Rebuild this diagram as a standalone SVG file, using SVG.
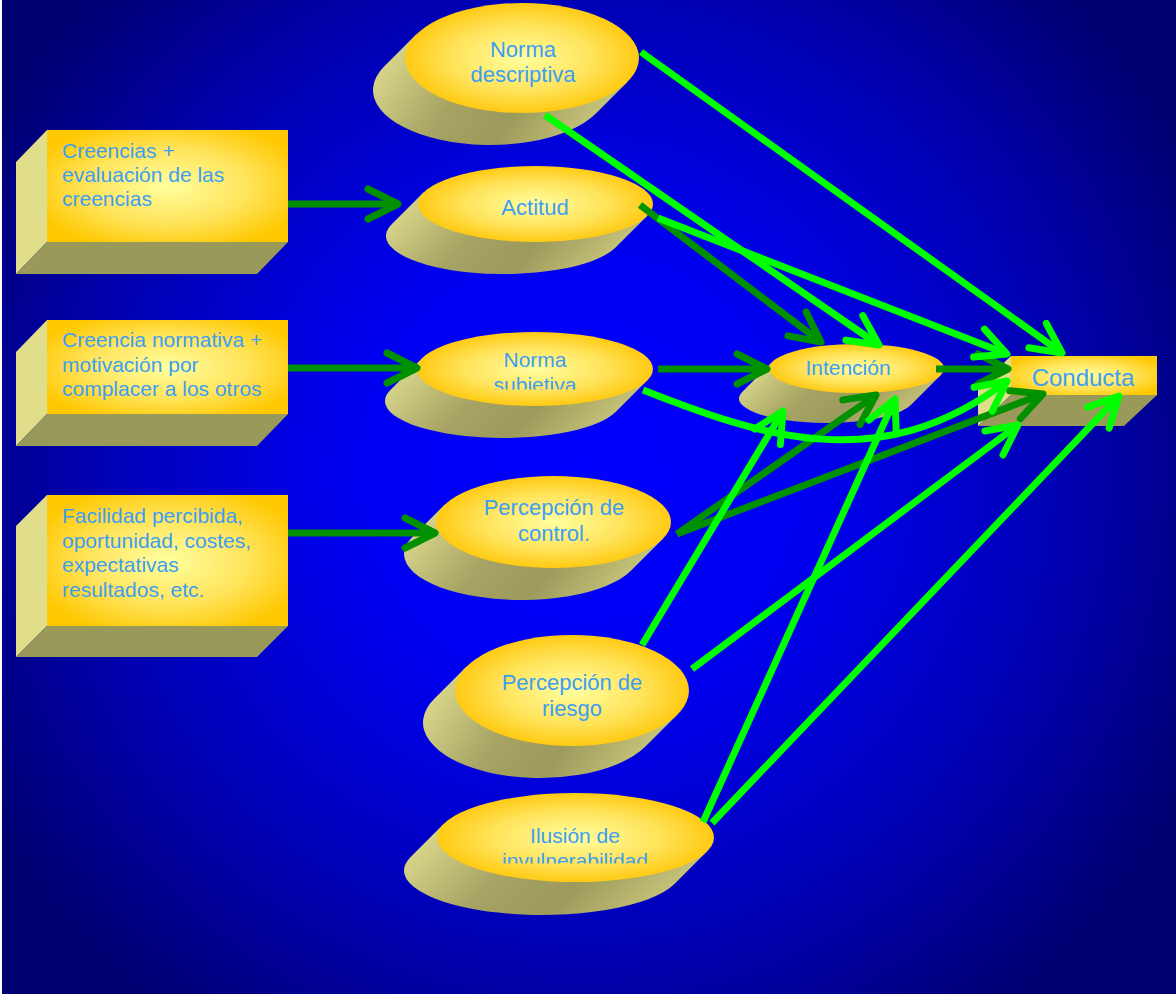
<svg xmlns="http://www.w3.org/2000/svg" width="1176" height="994" viewBox="0 0 1176 994">
  <defs>
    <radialGradient id="bg" gradientUnits="userSpaceOnUse" cx="580" cy="470" r="680">
      <stop offset="0" stop-color="#0000FF"/>
      <stop offset="0.35" stop-color="#0000F0"/>
      <stop offset="0.72" stop-color="#0000B0"/>
      <stop offset="1" stop-color="#000072"/>
    </radialGradient>
    <radialGradient id="face" cx="50%" cy="50%" r="60%">
      <stop offset="0" stop-color="#FFFF9E"/>
      <stop offset="0.55" stop-color="#FFE45C"/>
      <stop offset="1" stop-color="#FFC800"/>
    </radialGradient>
    <radialGradient id="top" cx="50%" cy="50%" r="55%">
      <stop offset="0" stop-color="#FFFFA0"/>
      <stop offset="0.55" stop-color="#FFE35A"/>
      <stop offset="1" stop-color="#FFC400"/>
    </radialGradient>
    <linearGradient id="side" x1="0" y1="0" x2="1" y2="0.3">
      <stop offset="0" stop-color="#E8E596"/>
      <stop offset="0.45" stop-color="#A6A364"/>
      <stop offset="0.7" stop-color="#9C9A5C"/>
      <stop offset="1" stop-color="#C4C178"/>
    </linearGradient>
    <marker id="ahBright" markerUnits="userSpaceOnUse" viewBox="-36 -20 40 40" markerWidth="40" markerHeight="40" refX="0" refY="0" orient="auto" overflow="visible">
      <path d="M-30,-15 L0,0 L-30,15" fill="none" stroke="#00FF00" stroke-width="7" stroke-linecap="round" stroke-linejoin="round"/>
    </marker>
    <marker id="ahDark" markerUnits="userSpaceOnUse" viewBox="-36 -20 40 40" markerWidth="40" markerHeight="40" refX="0" refY="0" orient="auto" overflow="visible">
      <path d="M-30,-15 L0,0 L-30,15" fill="none" stroke="#009000" stroke-width="7" stroke-linecap="round" stroke-linejoin="round"/>
    </marker>
    <clipPath id="clipSubj"><rect x="380" y="320" width="290" height="69.5"/></clipPath>
    <clipPath id="clipIlu"><rect x="400" y="780" width="330" height="83.5"/></clipPath>
  </defs>
  <style>
    .lbl { font-family: "Liberation Sans", Arial, sans-serif; font-size: 21px; fill: #3D9EF2; }
    .big { font-size: 22px; }
    .mid { text-anchor: middle; }
    .face { fill: url(#face); }
    .bside { fill: #E0DE8A; }
    .bbottom { fill: #99995A; }
    .cyl { fill: url(#side); }
    .top { fill: url(#top); }
    .bright { fill: none; stroke: #00FF00; stroke-width: 7; marker-end: url(#ahBright); }
    .dark { fill: none; stroke: #009000; stroke-width: 7; marker-end: url(#ahDark); }
  </style>

  <!-- background -->
  <rect x="0" y="0" width="1176" height="994" fill="#FFFFFF"/>
  <rect x="2" y="0" width="1174" height="994" fill="url(#bg)"/>

  <!-- input boxes -->
  <g id="box-creencias">
    <polygon class="bside" points="47,130 47,242 16,274 16,162"/>
    <polygon class="bbottom" points="47,242 288,242 257,274 16,274"/>
    <rect class="face" x="47" y="130" width="241" height="112"/>
    <text class="lbl" x="62" y="158">Creencias +</text>
    <text class="lbl" x="62" y="182">evaluación de las</text>
    <text class="lbl" x="62" y="206">creencias</text>
  </g>
  <g id="box-creencia-normativa">
    <polygon class="bside" points="47,320 47,414 16,446 16,352"/>
    <polygon class="bbottom" points="47,414 288,414 257,446 16,446"/>
    <rect class="face" x="47" y="320" width="241" height="94"/>
    <text class="lbl" x="62" y="347">Creencia normativa +</text>
    <text class="lbl" x="62" y="371.5">motivación por</text>
    <text class="lbl" x="62" y="396">complacer a los otros</text>
  </g>
  <g id="box-facilidad">
    <polygon class="bside" points="47,495 47,626 16,657 16,526"/>
    <polygon class="bbottom" points="47,626 288,626 257,657 16,657"/>
    <rect class="face" x="47" y="495" width="241" height="131"/>
    <text class="lbl" x="62" y="523">Facilidad percibida,</text>
    <text class="lbl" x="62" y="547.5">oportunidad, costes,</text>
    <text class="lbl" x="62" y="572">expectativas</text>
    <text class="lbl" x="62" y="596.5">resultados, etc.</text>
  </g>

  <!-- cylinder nodes -->
  <g id="node-norma-descriptiva">
    <path class="cyl" d="M416.1,34.6 L384.1,66.6 A117,55 0 0 0 595.9,113.4 L627.9,81.4 Z"/>
    <ellipse class="top" cx="522" cy="58" rx="117" ry="55"/>
    <text class="lbl big mid" x="523" y="57">Norma</text>
    <text class="lbl big mid" x="523" y="82">descriptiva</text>
  </g>
  <g id="node-actitud">
    <path class="cyl" d="M423.7,192.3 L391.7,224.3 A117.5,38 0 0 0 615.3,247.7 L647.3,215.7 Z"/>
    <ellipse class="top" cx="535.5" cy="204" rx="117.5" ry="38"/>
    <text class="lbl big mid" x="535" y="215">Actitud</text>
  </g>
  <g id="node-norma-subjetiva">
    <path class="cyl" d="M422.4,357.9 L390.4,389.9 A118,37 0 0 0 615.6,412.1 L647.6,380.1 Z"/>
    <ellipse class="top" cx="535" cy="369" rx="118" ry="37"/>
    <g clip-path="url(#clipSubj)">
      <text class="lbl mid" x="535" y="367">Norma</text>
      <text class="lbl mid" x="535" y="392">subjetiva</text>
    </g>
  </g>
  <g id="node-percepcion-control">
    <path class="cyl" d="M444.1,505.2 L412.1,537.2 A117.5,46 0 0 0 630.9,570.8 L662.9,538.8 Z"/>
    <ellipse class="top" cx="553.5" cy="522" rx="117.5" ry="46"/>
    <text class="lbl big mid" x="554" y="515">Percepción de</text>
    <text class="lbl big mid" x="554" y="541">control.</text>
  </g>
  <g id="node-percepcion-riesgo">
    <path class="cyl" d="M466.3,666.7 L434.3,698.7 A117,55.5 0 0 0 645.7,746.3 L677.7,714.3 Z"/>
    <ellipse class="top" cx="572" cy="690.5" rx="117" ry="55.5"/>
    <text class="lbl big mid" x="572" y="690">Percepción de</text>
    <text class="lbl big mid" x="572" y="716">riesgo</text>
  </g>
  <g id="node-ilusion">
    <path class="cyl" d="M443.6,823.9 L410.6,856.9 A138.5,44.5 0 0 0 674.4,884.1 L707.4,851.1 Z"/>
    <ellipse class="top" cx="575.5" cy="837.5" rx="138.5" ry="44.5"/>
    <g clip-path="url(#clipIlu)">
      <text class="lbl mid" x="575" y="843">Ilusión de</text>
      <text class="lbl mid" x="575" y="868">invulnerabilidad</text>
    </g>
  </g>
  <g id="node-intencion">
    <path class="cyl" d="M772.2,361.9 L742.2,391.9 A87.5,24.5 0 0 0 910.8,405.1 L940.8,375.1 Z"/>
    <ellipse class="top" cx="856.5" cy="368.5" rx="87.5" ry="24.5"/>
    <text class="lbl mid" x="848" y="375">Intención</text>
  </g>
  <g id="node-conducta">
    <polygon class="bside" points="1011,356 1011,395 978,426 978,387"/>
    <polygon class="bbottom" points="1011,395 1157,395 1124,426 978,426"/>
    <rect class="face" x="1011" y="356" width="146" height="39"/>
    <text class="lbl mid" x="1083" y="386" style="font-size:24px">Conducta</text>
  </g>

  <!-- connectors -->
  <g id="connectors">
    <path class="dark" d="M288,204 L398,204"/>
    <path class="dark" d="M288,368 L417,368"/>
    <path class="dark" d="M288,533 L435,533"/>
    <path class="dark" d="M658,369 L767,369"/>
    <path class="dark" d="M936,369 L1008,369"/>
    <path class="dark" d="M640,205 L821,342"/>
    <path class="dark" d="M677,534 L876,395"/>
    <path class="dark" d="M677,534 L1043,394"/>

    <path class="bright" d="M641,52 L1062,353"/>
    <path class="bright" d="M545,115 L879,345"/>
    <path class="bright" d="M658,218 L1007,354"/>
    <path class="bright" d="M643,390 C760,436 880,478 1007,381"/>
    <path class="bright" d="M642,645 L783,411"/>
    <path class="bright" d="M692,669 L1018,425"/>
    <path class="bright" d="M703,822 L895,399"/>
    <path class="bright" d="M712,823 L1119,396"/>
  </g>
</svg>
